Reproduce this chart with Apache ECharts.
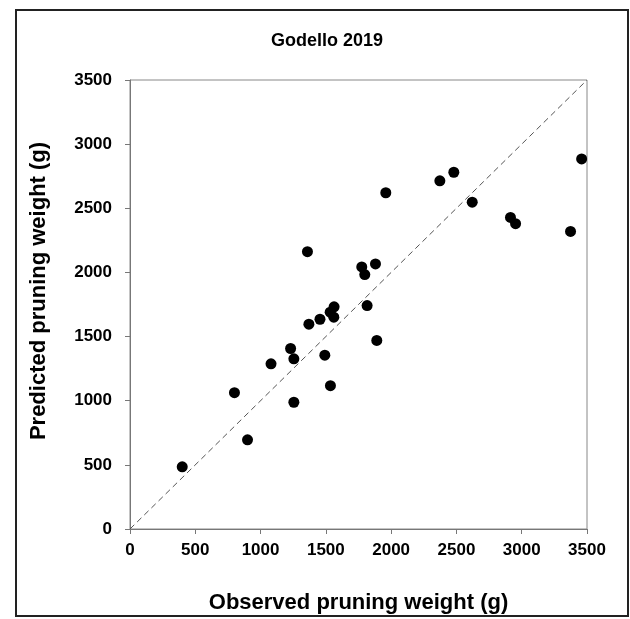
<!DOCTYPE html>
<html>
<head>
<meta charset="utf-8">
<script src="https://cdn.jsdelivr.net/npm/echarts@6/dist/echarts.min.js"></script>
<style>html,body{margin:0;padding:0;background:#fff}#c{width:630px;height:619px}</style>
</head>
<body>
<div id="c"></div>
<script>
const titleText = "Godello 2019";
const xName = "Observed pruning weight (g)";
const yName = "Predicted pruning weight (g)";
const observed = [400, 900, 800, 1080, 1255, 1230, 1255, 1370, 1455, 1533, 1563, 1561, 1492, 1535, 1816, 1890, 1359, 1775, 1798, 1880, 1959, 2373, 2480, 2621, 2914, 2953, 3374, 3459];
const predicted = [485, 695, 1063, 1288, 988, 1407, 1327, 1597, 1635, 1690, 1732, 1651, 1355, 1117, 1742, 1470, 2162, 2043, 1983, 2066, 2621, 2714, 2781, 2548, 2429, 2380, 2320, 2885];
const oneToOne = [[0, 0], [3500, 3500]];
const axisMin = 0, axisMax = 3500, axisStep = 500;

const pts = observed.map((x, i) => [x, predicted[i]]);
const chart = echarts.init(document.getElementById('c'), null, {renderer: 'canvas'});
const font = 'Liberation Sans, Arial, sans-serif';
chart.setOption({
  animation: false,
  backgroundColor: '#fff',
  title: {
    text: titleText, left: 266, top: 27,
    textStyle: {fontFamily: font, fontWeight: 'bold', fontSize: 18, color: '#000'}
  },
  graphic: [
    {
      type: 'rect', shape: {x: 16, y: 10, width: 612, height: 606},
      style: {fill: 'none', stroke: '#222', lineWidth: 2}, silent: true
    },
    {
      type: 'text', x: 39, y: 291, rotation: Math.PI / 2, silent: true,
      style: {text: yName, fontFamily: font, fontWeight: 'bold', fontSize: 22, fill: '#000',
              align: 'center', verticalAlign: 'middle', textAlign: 'center', textVerticalAlign: 'middle'}
    }
  ],
  grid: {left: 130, right: 43, top: 80, bottom: 89, show: true, borderColor: '#888', borderWidth: 1, backgroundColor: 'transparent'},
  xAxis: {
    type: 'value', min: axisMin, max: axisMax, interval: axisStep,
    name: xName, nameLocation: 'middle', nameGap: 63,
    nameTextStyle: {fontFamily: font, fontWeight: 'bold', fontSize: 22, color: '#000'},
    axisLine: {show: true, lineStyle: {color: '#777', width: 1}},
    axisTick: {show: true, inside: false, length: 5, lineStyle: {color: '#777'}},
    axisLabel: {fontFamily: font, fontWeight: 'bold', fontSize: 17, color: '#000', margin: 13, formatter: v => String(v)},
    splitLine: {show: false}
  },
  yAxis: {
    type: 'value', min: axisMin, max: axisMax, interval: axisStep,
    axisLine: {show: true, lineStyle: {color: '#777', width: 1}},
    axisTick: {show: true, inside: false, length: 5, lineStyle: {color: '#777'}},
    axisLabel: {fontFamily: font, fontWeight: 'bold', fontSize: 17, color: '#000', margin: 18, formatter: v => String(v)},
    splitLine: {show: false}
  },
  series: [
    {
      type: 'line', data: oneToOne, showSymbol: false, symbol: 'none', silent: true,
      lineStyle: {color: '#555', width: 1, type: [6, 4]}, z: 1
    },
    {
      type: 'scatter', data: pts, symbol: 'circle', symbolSize: 11,
      itemStyle: {color: '#000', opacity: 1}, z: 3
    }
  ]
});
</script>
</body>
</html>
